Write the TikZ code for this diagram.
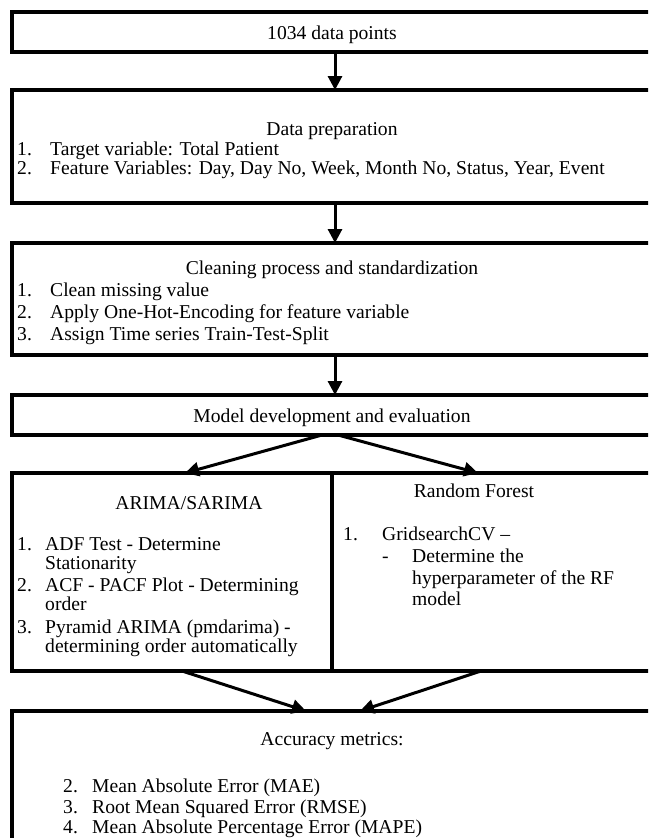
\documentclass[tikz,border=0pt]{standalone}
\usepackage{fontspec}
\setmainfont{Liberation Serif}
\usetikzlibrary{arrows.meta}
\begin{document}
\begin{tikzpicture}[x=1pt,y=-1pt,
  box/.style={draw=black, line width=3.2pt, inner sep=0pt, outer sep=0pt},
  txt/.style={inner sep=0pt, anchor=base west, font=\fontsize{19.6}{21}\selectfont},
  ctxt/.style={inner sep=0pt, anchor=base, font=\fontsize{19.6}{21}\selectfont},
  arr/.style={line width=3pt, -{Triangle[length=14pt,width=14pt]}}]
\useasboundingbox (0,0) rectangle (648,838);
\clip (0,0) rectangle (648,838);
\fill[white] (0,0) rectangle (648,838);
% boxes
\node[box, minimum width=640pt, minimum height=40pt] (b1) at (332,32) {};
\node[box, minimum width=640pt, minimum height=113pt] (b2) at (332,146.5) {};
\node[box, minimum width=640pt, minimum height=112pt] (b3) at (332,299) {};
\node[box, minimum width=640pt, minimum height=40pt] (b4) at (332,415) {};
\node[box, minimum width=320pt, minimum height=198pt] (b5) at (172,572) {};
\node[box, minimum width=320pt, minimum height=198pt] (b6) at (492,572) {};
\node[box, minimum width=640pt, minimum height=149pt] (b7) at (332,785.5) {};
% texts box 1
\node[ctxt] (t1) at (332,39) {1034 data points};
% box 2
\node[ctxt] (t2) at (332,135) {Data preparation};
\node[txt] (t2n1) at (17,155) {1.};
\node[txt] (t2i1) at (50,155) {Target variable: Total Patient};
\node[txt] (t2n2) at (17,174) {2.};
\node[txt] (t2i2) at (50,174) {Feature Variables: Day, Day No, Week, Month No, Status, Year, Event};
% box 3
\node[ctxt] (t3) at (332,274) {Cleaning process and standardization};
\node[txt] (t3n1) at (17,296) {1.};
\node[txt] (t3i1) at (50,296) {Clean missing value};
\node[txt] (t3n2) at (17,318) {2.};
\node[txt] (t3i2) at (50,318) {Apply One-Hot-Encoding for feature variable};
\node[txt] (t3n3) at (17,340) {3.};
\node[txt] (t3i3) at (50,340) {Assign Time series Train-Test-Split};
% box 4
\node[ctxt] (t4) at (332,422) {Model development and evaluation};
% box 5
\node[ctxt] (t5) at (189,509) {ARIMA/SARIMA};
\node[txt] (t5n1) at (17,550) {1.};
\node[txt] (t5i1a) at (45,550) {ADF Test - Determine};
\node[txt] (t5i1b) at (45,569) {Stationarity};
\node[txt] (t5n2) at (17,591) {2.};
\node[txt] (t5i2a) at (45,591) {ACF - PACF Plot - Determining};
\node[txt] (t5i2b) at (45,610) {order};
\node[txt] (t5n3) at (17,633) {3.};
\node[txt] (t5i3a) at (45,633) {Pyramid ARIMA (pmdarima) -};
\node[txt] (t5i3b) at (45,652) {determining order automatically};
% box 6
\node[ctxt] (t6) at (474,497) {Random Forest};
\node[txt] (t6n1) at (343,540) {1.};
\node[txt] (t6i1) at (382,540) {GridsearchCV –};
\node[txt] (t6d) at (382,562) {-};
\node[txt] (t6s1) at (412,562) {Determine the};
\node[txt] (t6s2) at (412,584) {hyperparameter of the RF};
\node[txt] (t6s3) at (412,605) {model};
% box 7
\node[ctxt] (t7) at (332,745) {Accuracy metrics:};
\node[txt] (t7n2) at (63,792) {2.};
\node[txt] (t7i2) at (92,792) {Mean Absolute Error (MAE)};
\node[txt] (t7n3) at (63,813) {3.};
\node[txt] (t7i3) at (92,813) {Root Mean Squared Error (RMSE)};
\node[txt] (t7n4) at (63,833) {4.};
\node[txt] (t7i4) at (92,833) {Mean Absolute Percentage Error (MAPE)};
% arrows
\draw[arr] ([xshift=3pt]b1.south) -- ([xshift=3pt]b2.north);
\draw[arr] ([xshift=3pt]b2.south) -- ([xshift=3pt]b3.north);
\draw[arr] ([xshift=3pt]b3.south) -- ([xshift=3pt]b4.north);
\draw[arr] ([xshift=-10pt]b4.south) -- ([xshift=13pt]b5.north);
\draw[arr] ([xshift=6pt]b4.south) -- ([xshift=-14pt]b6.north);
\draw[arr] ([xshift=10pt]b5.south) -- ([xshift=-26pt]b7.north);
\draw[arr] ([xshift=-11pt]b6.south) -- ([xshift=28pt]b7.north);
\end{tikzpicture}
\end{document}
